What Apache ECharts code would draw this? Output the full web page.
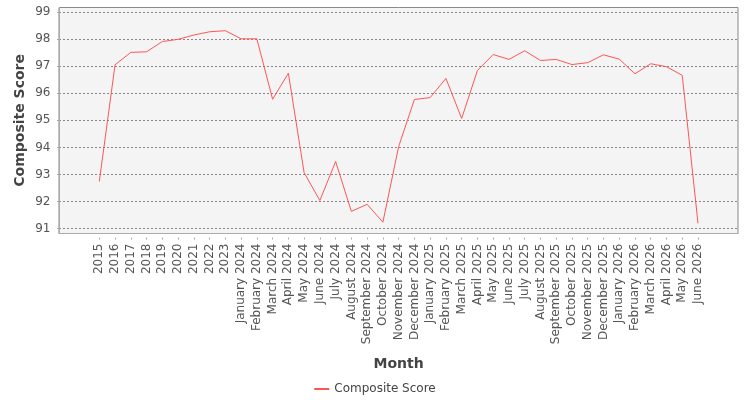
<!DOCTYPE html>
<html>
<head>
<meta charset="utf-8">
<script src="https://cdn.jsdelivr.net/npm/echarts@6/dist/echarts.min.js"></script>
<style>html,body{margin:0;padding:0;background:#fff}#c{width:750px;height:400px}</style>
</head>
<body>
<div id="c"></div>
<script>
const categories = ["2015","2016","2017","2018","2019","2020","2021","2022","2023",
 "January 2024","February 2024","March 2024","April 2024","May 2024","June 2024","July 2024","August 2024","September 2024","October 2024","November 2024","December 2024",
 "January 2025","February 2025","March 2025","April 2025","May 2025","June 2025","July 2025","August 2025","September 2025","October 2025","November 2025","December 2025",
 "January 2026","February 2026","March 2026","April 2026","May 2026","June 2026"];
const compositeScore = [92.74,97.05,97.51,97.53,97.91,97.99,98.15,98.27,98.31,
 98.01,98.01,95.78,96.74,93.07,92.04,93.48,91.64,91.90,91.24,94.03,95.77,
 95.84,96.55,95.07,96.84,97.43,97.25,97.57,97.21,97.25,97.06,97.13,97.42,
 97.26,96.72,97.09,96.98,96.66,91.20];
const yTicks = {min: 91, max: 99, interval: 1};
const seriesName = "Composite Score";
const xTitle = "Month";
const yTitle = "Composite Score";

const FONT = "DejaVu Sans";
const chart = echarts.init(document.getElementById('c'), null, {renderer: 'canvas'});
chart.setOption({
  animation: false,
  textStyle: {fontFamily: FONT},
  grid: [
    {left: 59, top: 7.5, width: 679, height: 226, show: true, backgroundColor: '#f4f4f4', borderColor: '#888', borderWidth: 1},
    {left: 59, top: 12, width: 679, height: 216.7},
    {left: 99.3, top: 12, width: 598.7, height: 216.7}
  ],
  legend: {
    bottom: 0, left: 'center', itemWidth: 15, itemHeight: 2, icon: 'rect',
    textStyle: {fontFamily: FONT, fontSize: 12, color: '#444'},
    data: [seriesName]
  },
  xAxis: [
    {gridIndex: 0, type: 'value', min: 0, max: 1, position: 'bottom', offset: 4,
     axisLine: {show: true, lineStyle: {color: '#aaa'}}, axisTick: {show: false}, axisLabel: {show: false}, splitLine: {show: false}},
    {gridIndex: 1, type: 'value', min: 0, max: 1, show: false},
    {gridIndex: 2, type: 'category', data: categories, boundaryGap: false, position: 'bottom', offset: 8.8,
     axisLine: {show: false}, axisTick: {show: true, length: 2, alignWithLabel: true, lineStyle: {color: '#aaa'}},
     axisLabel: {rotate: 90, interval: 0, margin: 6, fontFamily: FONT, fontSize: 12, color: '#555'},
     splitLine: {show: false},
     name: xTitle, nameLocation: 'middle', nameGap: 120,
     nameTextStyle: {fontFamily: FONT, fontSize: 14, fontWeight: 'bold', color: '#444'}}
  ],
  yAxis: [
    {gridIndex: 0, type: 'value', min: 0, max: 1, position: 'left', offset: 4.5,
     axisLine: {show: true, lineStyle: {color: '#aaa'}}, axisTick: {show: false}, axisLabel: {show: false}, splitLine: {show: false}},
    {gridIndex: 1, type: 'value', min: yTicks.min, max: yTicks.max, interval: yTicks.interval, position: 'left', offset: 4.5,
     axisLine: {show: false}, axisTick: {show: true, length: 2, lineStyle: {color: '#aaa'}},
     axisLabel: {margin: 4, fontFamily: FONT, fontSize: 12, color: '#555'},
     splitLine: {show: true, lineStyle: {color: '#888', type: [2, 2], width: 1}},
     name: yTitle, nameLocation: 'middle', nameGap: 27, nameMoveOverlap: false,
     nameTextStyle: {fontFamily: FONT, fontSize: 14, fontWeight: 'bold', color: '#444'}},
    {gridIndex: 2, type: 'value', min: yTicks.min, max: yTicks.max, show: false}
  ],
  series: [{
    name: seriesName, type: 'line', xAxisIndex: 2, yAxisIndex: 2,
    data: compositeScore, showSymbol: false, symbol: 'none',
    lineStyle: {color: '#ff5555', width: 1}, itemStyle: {color: '#ff5555'}
  }]
});
</script>
</body>
</html>
